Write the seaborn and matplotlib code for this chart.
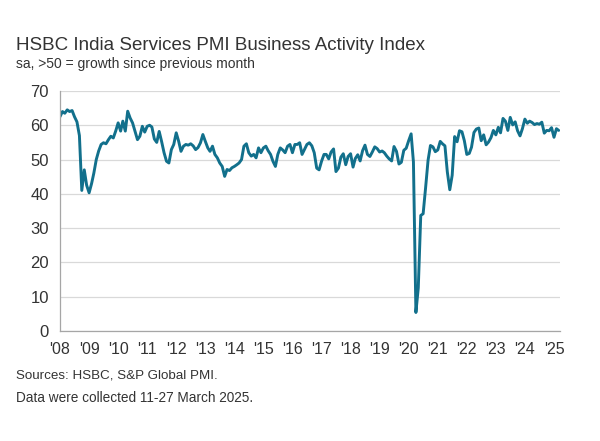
import matplotlib
matplotlib.use("Agg")
import matplotlib.pyplot as plt
import pandas as pd
import seaborn as sns

# monthly readings, Jan..Dec per year
pmi_2008 = [62.5, 64.0, 63.5, 64.5, 64.0, 64.3, 62.5, 61.0, 57.0, 41.0, 47.0, 42.5]
pmi_2009 = [40.3, 43.0, 46.0, 50.0, 52.5, 54.4, 54.9, 54.6, 55.8, 56.8, 56.3, 58.3]
pmi_2010 = [60.7, 58.3, 61.2, 58.3, 64.1, 62.1, 60.7, 58.3, 55.8, 56.8, 59.7, 58.0]
pmi_2011 = [59.7, 60.0, 59.5, 56.0, 55.0, 58.2, 55.3, 52.0, 49.5, 49.0, 52.9, 54.4]
pmi_2012 = [57.8, 55.3, 52.4, 53.9, 54.4, 54.2, 54.6, 54.0, 52.9, 53.5, 54.9, 57.3]
pmi_2013 = [55.3, 53.4, 52.4, 53.9, 51.5, 50.5, 49.0, 48.0, 45.1, 47.1, 46.8, 47.6]
pmi_2014 = [48.0, 48.5, 49.0, 50.0, 53.9, 54.6, 52.0, 51.0, 51.5, 50.5, 53.4, 52.0]
pmi_2015 = [53.4, 53.9, 52.6, 51.5, 49.5, 48.0, 51.5, 53.4, 52.8, 52.0, 53.9, 54.4]
pmi_2016 = [52.0, 54.4, 54.4, 54.9, 51.5, 53.0, 54.4, 54.9, 54.0, 52.0, 47.5, 47.0]
pmi_2017 = [49.5, 51.5, 51.5, 50.2, 52.2, 53.1, 46.5, 47.5, 50.7, 51.7, 48.5, 50.9]
pmi_2018 = [51.7, 47.8, 50.3, 51.4, 49.6, 52.6, 54.2, 51.5, 50.9, 52.2, 53.7, 53.2]
pmi_2019 = [52.2, 52.5, 52.0, 51.0, 50.2, 49.6, 53.8, 52.4, 48.7, 49.2, 52.7, 53.3]
pmi_2020 = [55.5, 57.5, 49.3, 5.4, 12.6, 33.7, 34.2, 41.8, 49.8, 54.1, 53.7, 52.3]
pmi_2021 = [52.8, 55.3, 54.6, 54.0, 46.4, 41.2, 45.4, 56.7, 55.2, 58.4, 58.1, 55.5]
pmi_2022 = [51.5, 51.8, 53.6, 57.9, 58.9, 59.2, 55.5, 57.2, 54.3, 55.1, 56.4, 58.5]
pmi_2023 = [57.2, 59.4, 57.8, 62.0, 61.2, 58.5, 62.3, 60.1, 61.0, 58.4, 56.9, 59.0]
pmi_2024 = [61.8, 60.6, 61.2, 60.8, 60.2, 60.5, 60.3, 60.9, 57.7, 58.5, 58.4, 59.3]
pmi_2025 = [56.5, 59.0, 58.5]

year_labels = ["'08", "'09", "'10", "'11", "'12", "'13", "'14", "'15", "'16",
               "'17", "'18", "'19", "'20", "'21", "'22", "'23", "'24", "'25"]
y_ticks = [0, 10, 20, 30, 40, 50, 60, 70]

values = (pmi_2008 + pmi_2009 + pmi_2010 + pmi_2011 + pmi_2012 + pmi_2013 +
          pmi_2014 + pmi_2015 + pmi_2016 + pmi_2017 + pmi_2018 + pmi_2019 +
          pmi_2020 + pmi_2021 + pmi_2022 + pmi_2023 + pmi_2024 + pmi_2025)
df = pd.DataFrame({
    "Month": pd.date_range("2008-01-01", periods=len(values), freq="MS"),
    "PMI": values,
})

sns.set_style("white")
plt.rcParams["font.family"] = ["Liberation Sans", "DejaVu Sans"]
text_col = "#333333"

fig = plt.figure(figsize=(6.0, 4.41), dpi=100)
ax = fig.add_axes([0.1, 0.2494, 0.833, 0.5443])

sns.lineplot(data=df, x="Month", y="PMI", ax=ax, color="#12708c", linewidth=2.1)

ax.set_ylim(0, 70)
ax.set_yticks(y_ticks)
ax.set_xlim(pd.Timestamp("2008-01-01"), pd.Timestamp("2025-03-15"))
year_ticks = [pd.Timestamp(f"{2008 + i}-01-01") for i in range(len(year_labels))]
ax.set_xticks(year_ticks)
ax.set_xticklabels(year_labels)
ax.yaxis.grid(True, color="#d9d9d9", linewidth=0.9)
ax.set_axisbelow(True)

for side in ["top", "right"]:
    ax.spines[side].set_visible(False)
for side in ["left", "bottom"]:
    ax.spines[side].set_color("#a6a6a6")
    ax.spines[side].set_linewidth(0.9)

ax.tick_params(axis="x", direction="out", length=4, width=0.9, color="#a6a6a6",
               labelsize=11.5, labelcolor=text_col, pad=4)
ax.tick_params(axis="y", direction="out", length=3, width=0.9, color="#a6a6a6",
               labelsize=12, labelcolor=text_col, pad=5)
ax.set_xlabel(None)
ax.set_ylabel(None)

fig.text(16 / 600, 1 - 46 / 441, "HSBC India Services PMI Business Activity Index",
         fontsize=13.5, color=text_col, va="center", ha="left")
fig.text(16 / 600, 1 - 64 / 441, "sa, >50 = growth since previous month",
         fontsize=10, color=text_col, va="center", ha="left")
fig.text(16 / 600, 1 - 376 / 441, "Sources: HSBC, S&P Global PMI.",
         fontsize=9.6, color=text_col, va="center", ha="left")
fig.text(16 / 600, 1 - 398 / 441, "Data were collected 11-27 March 2025.",
         fontsize=9.8, color=text_col, va="center", ha="left")

fig.savefig("out.png", dpi=100, facecolor="white")
